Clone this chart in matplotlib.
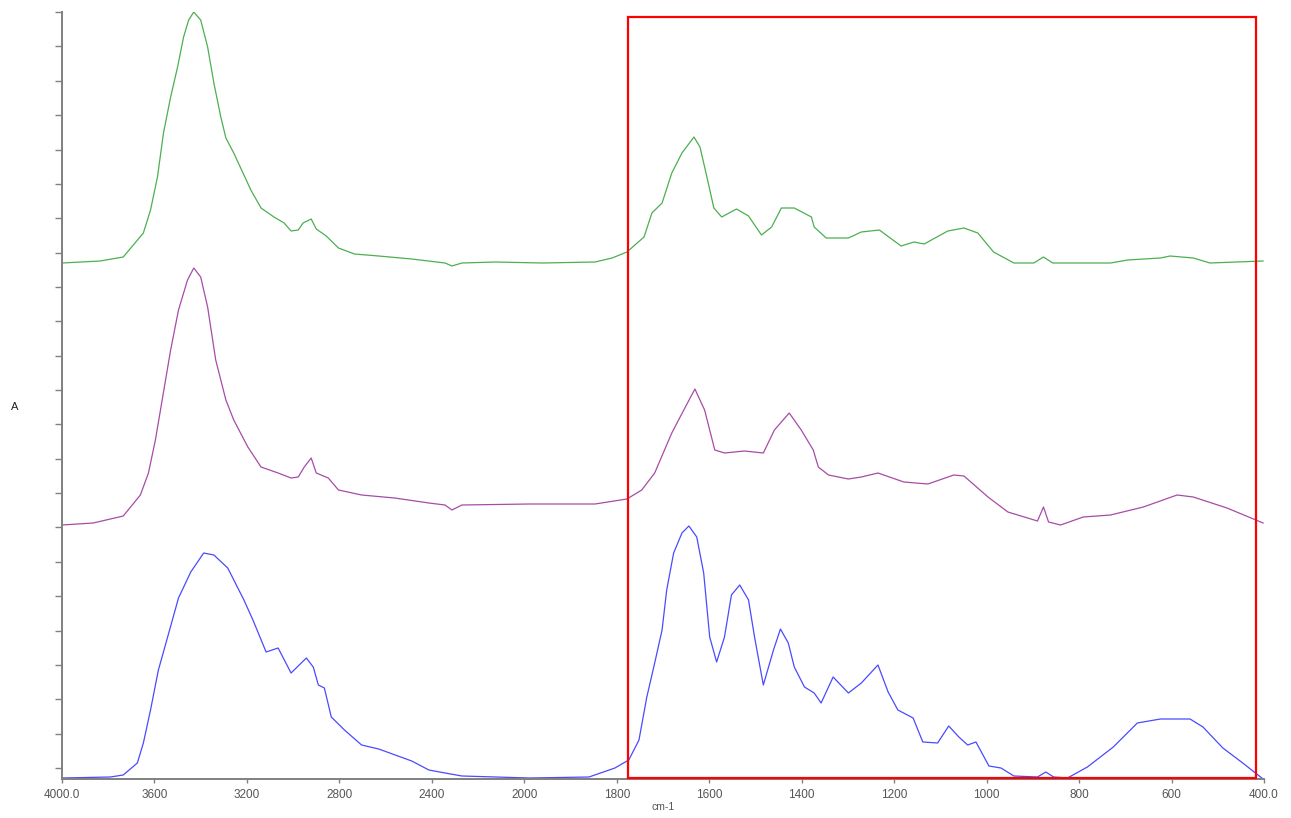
import numpy as np
import matplotlib.pyplot as plt
from matplotlib.patches import Rectangle

# FTIR spectra, stacked (arbitrary absorbance units)
wn_green = [4000, 3835, 3735, 3648, 3617, 3587, 3561, 3530, 3500, 3474, 3452, 3430, 3400, 3370, 3343,
            3313, 3291, 3257, 3217, 3183, 3139, 3083, 3039, 3009, 2978, 2957, 2922, 2900, 2857, 2804,
            2735, 2630, 2487, 2343, 2313, 2270, 2126, 1961, 1847, 1810, 1778, 1741, 1724, 1702, 1681,
            1659, 1633, 1620, 1605, 1590, 1573, 1541, 1515, 1487, 1465, 1444, 1416, 1379, 1373, 1347,
            1299, 1271, 1232, 1185, 1157, 1135, 1084, 1049, 1019, 985, 941, 898, 877, 857, 732,
            695, 624, 603, 553, 517, 402]
abs_green = [516, 518, 522, 546, 569, 602, 646, 682, 712, 742, 759, 767, 759, 732, 696,
             662, 641, 626, 606, 589, 571, 562, 556, 548, 549, 556, 560, 550, 543, 531,
             525, 523, 520, 516, 513, 516, 517, 516, 517, 521, 527, 542, 566, 576, 606,
             626, 642, 632, 602, 571, 562, 570, 563, 544, 552, 571, 571, 562, 552, 541,
             541, 547, 549, 533, 537, 535, 548, 551, 546, 527, 516, 516, 522, 516, 516,
             519, 521, 523, 521, 516, 518]

wn_purple = [4000, 3865, 3735, 3661, 3626, 3596, 3574, 3530, 3496, 3457, 3430, 3400, 3370, 3335, 3291,
             3257, 3196, 3139, 3065, 3009, 2978, 2952, 2922, 2900, 2848, 2804, 2704, 2561, 2413, 2343,
             2313, 2270, 1989, 1847, 1778, 1746, 1718, 1681, 1655, 1631, 1610, 1588, 1567, 1524, 1483,
             1459, 1427, 1401, 1375, 1364, 1342, 1299, 1271, 1235, 1179, 1127, 1071, 1049, 997, 954,
             890, 877, 866, 840, 791, 732, 661, 588, 553, 480, 402]
abs_purple = [254, 256, 263, 284, 306, 339, 369, 429, 469, 499, 511, 502, 472, 419, 379,
              359, 332, 312, 306, 301, 302, 312, 321, 306, 301, 289, 284, 281, 276, 274,
              269, 274, 275, 275, 280, 289, 306, 346, 369, 390, 369, 329, 326, 328, 326,
              349, 366, 349, 329, 312, 304, 300, 302, 306, 297, 295, 304, 303, 282, 267,
              258, 272, 257, 254, 262, 264, 272, 284, 282, 271, 256]

wn_blue = [4000, 3791, 3735, 3674, 3648, 3617, 3583, 3543, 3496, 3443, 3387, 3343, 3283, 3213, 3174,
           3117, 3065, 3009, 2943, 2913, 2891, 2865, 2835, 2778, 2704, 2630, 2487, 2413, 2343, 2270,
           1989, 1860, 1804, 1774, 1752, 1735, 1718, 1702, 1692, 1677, 1659, 1644, 1627, 1612, 1599,
           1584, 1567, 1552, 1534, 1515, 1502, 1483, 1461, 1446, 1429, 1416, 1394, 1373, 1358, 1332,
           1299, 1271, 1235, 1213, 1192, 1159, 1138, 1106, 1082, 1060, 1041, 1023, 995, 969, 941,
           890, 872, 855, 825, 782, 726, 674, 624, 560, 532, 489, 446, 402]
abs_blue = [1, 2, 4, 16, 36, 69, 109, 142, 181, 207, 226, 224, 211, 179, 159,
            127, 131, 106, 121, 112, 94, 91, 62, 49, 34, 30, 18, 9, 6, 3,
            1, 2, 11, 19, 39, 82, 116, 149, 189, 226, 246, 253, 242, 206, 142,
            117, 142, 184, 194, 179, 142, 94, 129, 150, 136, 112, 92, 86, 76, 102,
            86, 96, 114, 87, 69, 61, 37, 36, 53, 42, 34, 37, 13, 11, 3,
            2, 7, 2, 1, 12, 32, 56, 60, 60, 52, 31, 16, 0]

xtick_vals = [4000, 3600, 3200, 2800, 2400, 2000, 1800, 1600, 1400, 1200, 1000, 800, 600, 400]
xtick_labels = ['4000.0', '3600', '3200', '2800', '2400', '2000', '1800', '1600', '1400',
                '1200', '1000', '800', '600', '400.0']

# highlighted fingerprint region
box_wn = (1776, 417)
box_abs = (1, 762)

# instrument-style axis: scale halves above 2000 cm-1
def fwd(x):
    x = np.asarray(x, dtype=float)
    return np.where(x > 2000, 2000 + (x - 2000) / 2, x)

def inv(x):
    x = np.asarray(x, dtype=float)
    return np.where(x > 2000, 2000 + (x - 2000) * 2, x)

plt.rcParams['font.family'] = ['Liberation Sans Narrow', 'DejaVu Sans Condensed', 'Liberation Sans', 'DejaVu Sans']

fig = plt.figure(figsize=(12.91, 8.18), dpi=100)
ax = fig.add_axes([62 / 1291, 1 - 779 / 818, 1202 / 1291, 767 / 818])

ax.plot(wn_green, abs_green, color='#4caf50', lw=0.9, solid_joinstyle='round')
ax.plot(wn_purple, abs_purple, color='#a64ca6', lw=0.9, solid_joinstyle='round')
ax.plot(wn_blue, abs_blue, color='#4a4aff', lw=0.9, solid_joinstyle='round')

ax.set_xscale('function', functions=(fwd, inv))
ax.set_xlim(4000, 400)
ax.set_ylim(0, 767)

ax.add_patch(Rectangle((box_wn[0], box_abs[0]), box_wn[1] - box_wn[0], box_abs[1] - box_abs[0],
                       fill=False, edgecolor='#ff0000', lw=1.6, clip_on=False, zorder=5))

for s in ['top', 'right']:
    ax.spines[s].set_visible(False)
for s in ['left', 'bottom']:
    ax.spines[s].set_color('#808080')
    ax.spines[s].set_linewidth(1.4)

ax.set_xticks(xtick_vals)
ax.set_xticklabels(xtick_labels)
ax.xaxis.set_minor_locator(plt.NullLocator())
ax.tick_params(axis='x', direction='out', length=3, width=1, color='#808080',
               labelsize=8.5, labelcolor='#555555', pad=4)

ax.set_yticks(11 + 34.36 * np.arange(23))
ax.set_yticklabels([])
ax.yaxis.set_minor_locator(plt.NullLocator())
ax.tick_params(axis='y', direction='out', length=5, width=1, color='#808080')

ax.set_xlabel('cm-1', fontsize=7.5, color='#555555', labelpad=1)
ax.set_ylabel('A', rotation=0, fontsize=8, color='#222222', va='center', ha='center')
ax.yaxis.set_label_coords(-0.039, 0.485)

fig.savefig('out.png', dpi=100)
